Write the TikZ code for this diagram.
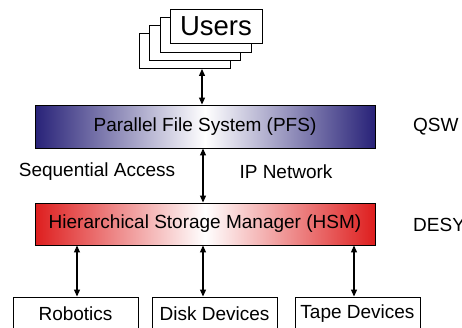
\documentclass[tikz,border=0pt]{standalone}
\usepackage{fontspec}
\setmainfont{Liberation Sans}
\usetikzlibrary{arrows.meta}
\definecolor{pfsblue}{RGB}{40,34,120}
\definecolor{hsmred}{RGB}{222,30,30}
\tikzset{
  box/.style={draw, line width=0.9pt, inner sep=0pt, font=\fontsize{19}{22}\selectfont},
  page/.style={box, fill=white, minimum width=91pt, minimum height=35pt},
  dev/.style={box, minimum width=125pt, minimum height=34pt},
  lbl/.style={font=\fontsize{19}{22}\selectfont, inner sep=0pt},
  arr/.style={{Triangle[length=7pt,width=6pt]}-{Triangle[length=7pt,width=6pt]}, line width=1.1pt}
}
\begin{document}
\begin{tikzpicture}[x=1pt,y=-1pt]
  \useasboundingbox (0,0) rectangle (462,327);
  \clip (0,0) rectangle (462,327);
  \draw
    (184.5,51) node[page] (page3){}
    (195,43) node[page] (page2){}
    (205.5,34.5) node[page] (page1){}
    (216,26) node[page, minimum width=92pt, minimum height=34pt, font=\fontsize{27.5}{30}\selectfont] (users){Users}
    (205,126.5) node[box, minimum width=340pt, minimum height=43pt,
      left color=pfsblue, right color=pfsblue, middle color=white] (pfs){Parallel File System (PFS)}
    (205,224) node[box, minimum width=340pt, minimum height=42pt,
      left color=hsmred, right color=hsmred, middle color=white] (hsm){Hierarchical Storage Manager (HSM)}
    (75.5,314) node[dev] (robotics){Robotics}
    (214.5,314) node[dev] (disk){Disk Devices}
    (357.5,314) node[dev] (tape){Tape Devices};
  \node[lbl, anchor=west] (qsw) at (413,127) {QSW};
  \node[lbl, anchor=west] (desy) at (413,225) {DESY};
  \node[lbl] (seq) at (97,172) {Sequential Access};
  \node[lbl] (ipnet) at (286,172) {IP Network};
  \begin{scope}[arr]
    \draw ([xshift=-3pt]pfs.north) to ([xshift=-3pt]pfs.north |- page3.south);
    \draw ([xshift=-2pt]pfs.south) to ([xshift=-2pt]hsm.north);
    \draw ([xshift=1.5pt]robotics.north) to ([xshift=1.5pt]robotics.north |- hsm.south);
    \draw ([xshift=-2pt]hsm.south) to ([xshift=-2pt]hsm.south |- disk.north);
    \draw ([xshift=-3.5pt]tape.north) to ([xshift=-3.5pt]tape.north |- hsm.south);
  \end{scope}
\end{tikzpicture}
\end{document}
